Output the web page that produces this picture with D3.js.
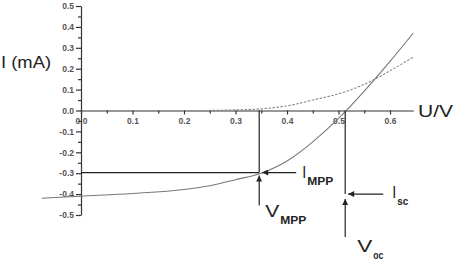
<!DOCTYPE html>
<html>
<head>
<meta charset="utf-8">
<script src="https://cdn.jsdelivr.net/npm/d3@7"></script>
<style>
  body { margin: 0; background: #fff; }
  svg { display: block; font-family: "Liberation Sans", Arial, sans-serif; }
</style>
</head>
<body>
<svg id="iv" width="457" height="262"></svg>
<script>
// solid curve (illuminated) and dashed curve (dark)
const uLight = [-0.076, 0, 0.1, 0.2, 0.25, 0.3, 0.35, 0.4, 0.45, 0.5, 0.55, 0.6, 0.645];
const iLight = [-0.42, -0.41, -0.397, -0.378, -0.36, -0.331, -0.3, -0.242, -0.15, -0.038, 0.093, 0.235, 0.37];
const uDark = [0.24, 0.3, 0.35, 0.4, 0.45, 0.5, 0.55, 0.6, 0.645];
const iDark = [0, 0.003, 0.008, 0.022, 0.05, 0.08, 0.125, 0.19, 0.255];

const xTicks = [0, 0.1, 0.2, 0.3, 0.4, 0.5, 0.6];
const xMinor = [0.05, 0.15, 0.25, 0.35, 0.45, 0.55];
const yTicks = [-0.5, -0.4, -0.3, -0.2, -0.1, 0, 0.1, 0.2, 0.3, 0.4, 0.5];
const yMinor = [-0.45, -0.35, -0.25, -0.15, -0.05, 0.05, 0.15, 0.25, 0.35, 0.45];

// key points
const vMpp = 0.346, iMpp = -0.297, vOc = 0.513, iSc = -0.40;

const svg = d3.select('svg#iv');

const x = d3.scaleLinear().domain([0, 0.645]).range([81, 413.2]),
  y = d3.scaleLinear().domain([-0.5, 0.5]).range([215, 6]);

const axisColor = '#333';
const fmt = d => d.toFixed(1);

// arrow head
svg.append('defs').append('marker')
  .attr('id', 'head')
  .attr('markerUnits', 'userSpaceOnUse')
  .attr('viewBox', '0 0 10 10')
  .attr('refX', 10).attr('refY', 5)
  .attr('markerWidth', 7).attr('markerHeight', 6)
  .attr('orient', 'auto')
  .append('path')
  .attr('d', 'M0,0L10,5L0,10z')
  .attr('fill', '#222');

// y axis
const gy = svg.append('g')
  .attr('transform', `translate(${x(0)},0)`)
  .call(d3.axisLeft(y).tickValues(yTicks).tickFormat(fmt).tickSize(5).tickSizeOuter(0).tickPadding(2));
svg.append('g')
  .attr('transform', `translate(${x(0)},0)`)
  .call(d3.axisLeft(y).tickValues(yMinor).tickFormat('').tickSize(3).tickSizeOuter(0))
  .select('.domain').remove();

// x axis
const gx = svg.append('g')
  .attr('transform', `translate(0,${y(0)})`)
  .call(d3.axisBottom(x).tickValues(xTicks).tickFormat(fmt).tickSize(4).tickSizeOuter(0).tickPadding(3));
svg.append('g')
  .attr('transform', `translate(0,${y(0)})`)
  .call(d3.axisBottom(x).tickValues(xMinor).tickFormat('').tickSize(3).tickSizeOuter(0))
  .select('.domain').remove();

svg.selectAll('.domain, .tick line')
  .attr('stroke', axisColor)
  .attr('stroke-width', 1.2);
svg.selectAll('.tick text')
  .attr('fill', '#555')
  .attr('font-size', 8.5)
  .attr('font-weight', 'bold')
  .attr('font-family', '"Liberation Sans", Arial, sans-serif');

// axis titles
svg.append('text')
  .attr('x', 1).attr('y', 68)
  .attr('font-size', 16)
  .attr('textLength', 50).attr('lengthAdjust', 'spacingAndGlyphs')
  .attr('fill', '#222')
  .text('I (mA)');
svg.append('text')
  .attr('x', 418).attr('y', 117)
  .attr('font-size', 16)
  .attr('textLength', 35).attr('lengthAdjust', 'spacingAndGlyphs')
  .attr('fill', '#222')
  .text('U/V');

// curves
const line = d3.line()
  .x(d => x(d[0]))
  .y(d => y(d[1]))
  .curve(d3.curveMonotoneX);

svg.append('path')
  .datum(uDark.map((u, i) => [u, iDark[i]]))
  .attr('d', line)
  .attr('fill', 'none')
  .attr('stroke', '#888')
  .attr('stroke-width', 1.1)
  .attr('stroke-dasharray', '2.5,1.5');

svg.append('path')
  .datum(uLight.map((u, i) => [u, iLight[i]]))
  .attr('d', line)
  .attr('fill', 'none')
  .attr('stroke', '#777')
  .attr('stroke-width', 1.1);

// MPP and Voc guide lines
const guides = [
  [x(0), y(iMpp), x(vMpp), y(iMpp)],
  [x(vMpp), y(0), x(vMpp), y(iMpp)],
  [x(vOc), y(0), x(vOc), y(iSc)]
];
svg.selectAll('line.guide')
  .data(guides)
  .enter()
  .append('line')
  .classed('guide', true)
  .attr('x1', d => d[0]).attr('y1', d => d[1])
  .attr('x2', d => d[2]).attr('y2', d => d[3])
  .attr('stroke', '#222')
  .attr('stroke-width', 1.2);

// arrows
const arrows = [
  [x(vMpp) + 37, y(iMpp), x(vMpp) + 3, y(iMpp)],
  [x(vMpp), y(iMpp) + 33, x(vMpp), y(iMpp) + 3],
  [x(vOc) + 38, y(iSc), x(vOc) + 3, y(iSc)],
  [x(vOc), y(iSc) + 43, x(vOc), y(iSc) + 5]
];
svg.selectAll('line.arrow')
  .data(arrows)
  .enter()
  .append('line')
  .classed('arrow', true)
  .attr('x1', d => d[0]).attr('y1', d => d[1])
  .attr('x2', d => d[2]).attr('y2', d => d[3])
  .attr('stroke', '#222')
  .attr('stroke-width', 1.2)
  .attr('marker-end', 'url(#head)');

// labels: [main, sub, x, y, main width, sub width]
const labels = [
  ['I', 'MPP', x(vMpp) + 43, y(iMpp) + 5, 4, 26],
  ['V', 'MPP', x(vMpp) + 6, y(iMpp) + 44, 14, 26],
  ['I', 'sc', x(vOc) + 47, y(iSc) + 4, 4, 11],
  ['V', 'oc', x(vOc) + 12, y(iSc) + 58, 15, 10]
];
labels.forEach(l => {
  svg.append('text')
    .attr('x', l[2]).attr('y', l[3])
    .attr('font-size', 17)
    .attr('textLength', l[4]).attr('lengthAdjust', 'spacingAndGlyphs')
    .attr('fill', '#222')
    .text(l[0]);
  svg.append('text')
    .attr('x', l[2] + l[4] + 1).attr('y', l[3] + 7)
    .attr('font-size', 10)
    .attr('font-weight', 'bold')
    .attr('textLength', l[5]).attr('lengthAdjust', 'spacingAndGlyphs')
    .attr('fill', '#222')
    .text(l[1]);
});
</script>
</body>
</html>
